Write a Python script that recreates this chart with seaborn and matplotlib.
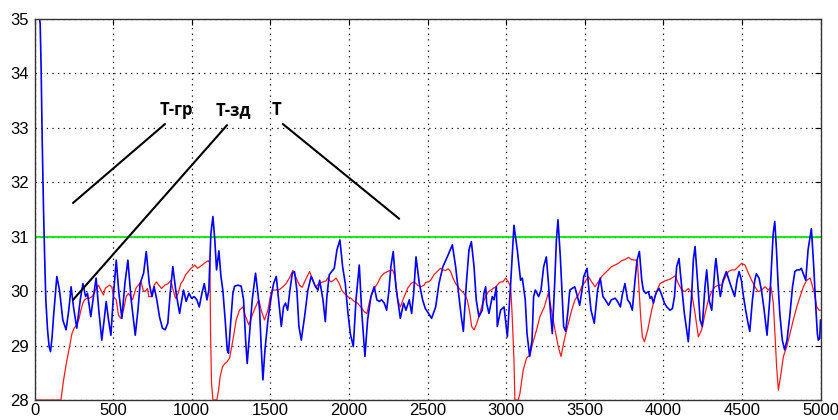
import matplotlib
matplotlib.use("Agg")
import matplotlib.pyplot as plt
import seaborn as sns
import pandas as pd

# ---- data ----
t_x = [0, 32, 36, 42, 49, 57, 64, 72, 83, 93, 102, 112, 121, 142, 159, 180, 201, 218, 233, 248, 269, 291, 308, 325, 337, 358,
       375, 392, 409, 428, 443, 456, 471, 486, 503, 520, 537, 556, 575, 594, 615, 641, 658, 672, 694, 711, 730, 747, 761,
       778, 795, 814, 831, 848, 863, 880, 901, 923, 937, 948, 965, 982, 999, 1016, 1033, 1048, 1065, 1080, 1097, 1109,
       1122, 1135, 1147, 1158, 1173, 1186, 1198, 1213, 1226, 1234, 1249, 1262, 1273, 1294, 1315, 1330, 1343, 1353, 1368,
       1385, 1406, 1421, 1432, 1442, 1453, 1466, 1485, 1506, 1521, 1538, 1553, 1570, 1584, 1597, 1610, 1625, 1640, 1654,
       1669, 1682, 1697, 1718, 1739, 1760, 1775, 1788, 1803, 1814, 1835, 1850, 1860, 1875, 1890, 1907, 1924, 1943, 1960,
       1977, 1992, 2009, 2028, 2045, 2066, 2081, 2102, 2119, 2140, 2161, 2178, 2193, 2208, 2225, 2240, 2255, 2267, 2282,
       2299, 2327, 2348, 2363, 2384, 2399, 2412, 2427, 2448, 2469, 2486, 2507, 2526, 2552, 2573, 2598, 2626, 2658, 2679,
       2700, 2715, 2728, 2747, 2764, 2779, 2796, 2810, 2827, 2848, 2859, 2870, 2876, 2891, 2912, 2923, 2938, 2944, 2965,
       2987, 3008, 3029, 3050, 3071, 3092, 3103, 3122, 3133, 3150, 3165, 3175, 3186, 3207, 3222, 3239, 3256, 3271, 3281,
       3294, 3309, 3320, 3330, 3345, 3356, 3366, 3379, 3394, 3405, 3420, 3437, 3451, 3468, 3483, 3494, 3515, 3525, 3540,
       3561, 3582, 3599, 3616, 3631, 3652, 3669, 3694, 3709, 3727, 3739, 3756, 3773, 3788, 3803, 3820, 3833, 3848, 3863,
       3873, 3888, 3905, 3916, 3926, 3937, 3947, 3958, 3973, 3990, 4007, 4022, 4043, 4058, 4071, 4085, 4100, 4117, 4134,
       4159, 4181, 4191, 4202, 4219, 4234, 4248, 4265, 4276, 4291, 4308, 4329, 4335, 4354, 4363, 4380, 4401, 4418, 4439,
       4454, 4469, 4482, 4497, 4507, 4524, 4539, 4550, 4567, 4582, 4592, 4609, 4624, 4639, 4660, 4677, 4688, 4699, 4709,
       4720, 4730, 4741, 4757, 4772, 4787, 4804, 4822, 4837, 4851, 4868, 4878, 4893, 4906, 4921, 4942, 4957, 4970, 4980,
       4986, 4995, 5000]
t_vals = [35.0, 35.0, 34.92, 34.12, 32.78, 31.55, 30.69, 29.84, 29.29, 28.98, 28.89, 29.16, 29.53, 30.27, 30.02, 29.47,
          29.29, 29.65, 30.08, 29.71, 29.32, 29.84, 30.14, 29.90, 29.96, 29.53, 29.90, 30.24, 29.65, 29.10, 29.47, 29.81,
          29.47, 29.19, 29.96, 30.57, 29.96, 29.50, 30.14, 30.57, 29.84, 29.19, 29.65, 30.14, 30.33, 30.73, 30.14, 29.90,
          30.08, 29.84, 29.53, 29.32, 29.29, 29.41, 29.96, 30.45, 29.96, 29.59, 29.84, 30.02, 29.81, 29.96, 29.87, 29.90,
          29.84, 29.71, 29.96, 30.14, 29.84, 30.02, 31.06, 31.37, 30.94, 30.39, 30.74, 30.27, 30.02, 29.47, 28.92, 28.86,
          29.47, 29.96, 30.09, 30.11, 30.09, 29.84, 29.10, 28.67, 29.22, 29.84, 30.33, 29.96, 29.65, 28.98, 28.37, 28.92,
          29.47, 29.90, 30.14, 30.27, 29.84, 29.35, 29.71, 29.78, 29.65, 30.02, 30.33, 30.36, 30.02, 29.35, 29.10, 29.53,
          30.02, 30.27, 30.17, 30.08, 30.02, 30.20, 29.84, 29.44, 29.90, 30.30, 30.36, 30.42, 30.76, 30.94, 30.45, 30.14,
          29.65, 29.22, 28.98, 29.84, 30.48, 29.65, 28.80, 29.47, 29.90, 30.08, 29.84, 29.81, 29.84, 29.78, 29.65, 30.02,
          30.45, 30.73, 30.08, 29.50, 29.78, 29.65, 29.84, 29.59, 29.96, 30.63, 30.14, 29.84, 29.68, 29.59, 29.50, 29.71,
          30.14, 30.45, 30.63, 30.85, 30.45, 29.90, 29.53, 29.26, 30.14, 30.76, 30.91, 30.45, 29.84, 29.53, 29.65, 29.96,
          30.08, 29.78, 29.59, 29.90, 29.84, 30.08, 29.35, 29.65, 29.71, 29.16, 30.14, 31.21, 30.76, 30.20, 30.24, 29.84,
          29.22, 28.80, 29.10, 29.90, 30.02, 29.90, 30.02, 30.45, 30.63, 30.08, 29.65, 29.22, 30.14, 30.94, 31.31, 30.63,
          29.96, 29.35, 29.26, 29.65, 30.02, 30.05, 30.08, 29.93, 29.74, 30.02, 30.27, 30.42, 30.08, 29.65, 29.41, 30.02,
          30.24, 29.90, 29.84, 29.74, 29.84, 29.87, 29.81, 29.71, 29.93, 30.14, 29.84, 29.78, 29.65, 30.20, 30.57, 30.73,
          30.20, 30.02, 29.96, 29.99, 29.87, 29.90, 29.78, 29.90, 29.99, 30.05, 29.93, 29.78, 29.71, 29.65, 29.68, 29.90,
          30.45, 30.60, 30.08, 29.59, 29.07, 29.96, 30.57, 30.82, 30.14, 29.47, 29.35, 30.08, 30.39, 29.84, 29.65, 30.45,
          30.60, 30.08, 29.90, 30.20, 30.36, 30.20, 30.02, 29.90, 30.20, 30.36, 30.20, 29.96, 29.65, 29.41, 29.26, 29.84,
          30.20, 30.32, 30.24, 30.02, 29.71, 29.19, 29.84, 30.45, 31.06, 31.28, 30.76, 30.14, 29.59, 29.10, 28.92, 29.10,
          29.53, 30.08, 30.36, 30.39, 30.39, 30.42, 30.30, 30.20, 30.76, 31.15, 30.45, 29.71, 29.22, 29.10, 29.13, 29.47]

tzd_x = [0, 0, 168, 185, 206, 223, 238, 252, 269, 284, 295, 308, 318, 333, 350, 365, 380, 392, 407, 422, 439, 450, 464,
         477, 492, 503, 520, 534, 549, 566, 583, 598, 623, 645, 660, 678, 691, 702, 719, 727, 744, 761, 776, 791, 808,
         829, 851, 867, 882, 897, 914, 931, 946, 961, 978, 995, 1010, 1020, 1037, 1052, 1067, 1084, 1105, 1116, 1120,
         1126, 1135, 1160, 1171, 1181, 1196, 1211, 1224, 1241, 1262, 1283, 1304, 1326, 1343, 1364, 1385, 1406, 1427,
         1442, 1463, 1485, 1500, 1512, 1534, 1559, 1580, 1601, 1623, 1644, 1665, 1686, 1703, 1729, 1750, 1771, 1788,
         1809, 1835, 1856, 1864, 1886, 1903, 1918, 1939, 1954, 1971, 1992, 2013, 2034, 2055, 2076, 2098, 2115, 2129,
         2151, 2166, 2182, 2204, 2225, 2246, 2278, 2289, 2299, 2310, 2327, 2352, 2373, 2395, 2416, 2437, 2458, 2479,
         2488, 2505, 2520, 2541, 2562, 2583, 2598, 2615, 2632, 2647, 2662, 2679, 2696, 2711, 2732, 2753, 2768, 2781,
         2796, 2810, 2827, 2848, 2870, 2887, 2904, 2918, 2935, 2952, 2965, 2980, 2997, 3014, 3029, 3039, 3050, 3056,
         3077, 3088, 3109, 3130, 3152, 3169, 3194, 3215, 3243, 3268, 3285, 3311, 3332, 3349, 3370, 3396, 3417, 3438,
         3460, 3481, 3502, 3523, 3544, 3566, 3587, 3608, 3629, 3650, 3671, 3693, 3714, 3735, 3756, 3778, 3799, 3820,
         3835, 3845, 3856, 3867, 3880, 3901, 3926, 3952, 3979, 4011, 4043, 4075, 4096, 4117, 4138, 4160, 4181, 4202,
         4223, 4244, 4266, 4287, 4308, 4329, 4350, 4371, 4392, 4414, 4435, 4456, 4477, 4498, 4520, 4541, 4562, 4583,
         4604, 4626, 4647, 4668, 4685, 4700, 4711, 4721, 4732, 4749, 4764, 4785, 4806, 4827, 4849, 4870, 4891, 4912,
         4934, 4944, 4961, 4976, 4991, 5000]
tzd_vals = [30.69, 28.0, 28.0, 28.37, 28.73, 28.98, 29.22, 29.32, 29.38, 29.50, 29.65, 29.78, 29.84, 29.87, 29.87, 29.90,
            29.96, 30.05, 30.11, 30.02, 29.93, 30.05, 30.08, 30.11, 30.08, 29.90, 29.84, 29.56, 29.50, 29.65, 29.90, 29.96,
            29.84, 30.05, 30.11, 30.17, 30.02, 29.99, 30.05, 29.90, 29.90, 30.11, 30.17, 30.11, 30.05, 30.11, 30.14, 30.20,
            30.02, 29.87, 29.96, 30.14, 30.20, 30.30, 30.36, 30.42, 30.45, 30.48, 30.42, 30.45, 30.48, 30.52, 30.56, 30.51,
            29.22, 28.31, 28.0, 28.0, 28.18, 28.43, 28.61, 28.67, 28.70, 28.77, 29.10, 29.47, 29.65, 29.71, 29.53, 29.38,
            29.56, 29.71, 29.84, 29.65, 29.47, 29.65, 29.90, 30.02, 30.02, 30.03, 30.08, 30.14, 30.25, 30.38, 30.24, 30.11,
            30.07, 30.24, 30.36, 30.20, 30.07, 30.14, 30.17, 30.19, 30.24, 30.17, 30.20, 30.24, 30.14, 30.02, 29.96, 29.90,
            29.87, 29.81, 29.78, 29.71, 29.62, 29.59, 29.78, 29.99, 30.07, 30.14, 30.27, 30.33, 30.36, 30.39, 30.30, 30.14,
            29.84, 29.71, 29.90, 30.05, 30.14, 30.17, 30.11, 30.08, 30.11, 30.16, 30.17, 30.20, 30.30, 30.36, 30.42, 30.39,
            30.38, 30.41, 30.36, 30.24, 30.14, 30.07, 30.02, 29.96, 29.84, 29.62, 29.35, 29.29, 29.38, 29.53, 29.75, 29.90,
            29.99, 30.02, 30.05, 30.08, 30.14, 30.17, 30.17, 30.24, 30.17, 30.08, 29.53, 28.73, 28.0, 28.0, 28.12, 28.55,
            28.77, 28.83, 29.04, 29.29, 29.53, 29.71, 29.96, 29.71, 29.29, 28.98, 28.80, 29.10, 29.41, 29.65, 29.84, 29.93,
            30.08, 30.17, 30.27, 30.17, 30.08, 30.17, 30.27, 30.33, 30.39, 30.45, 30.48, 30.51, 30.56, 30.58, 30.62, 30.58,
            30.57, 30.57, 30.08, 29.53, 29.16, 29.07, 29.29, 29.65, 29.96, 30.14, 30.19, 30.22, 30.28, 30.14, 30.02, 29.99,
            30.05, 29.96, 29.59, 29.16, 29.29, 29.59, 29.84, 29.99, 30.08, 30.11, 30.11, 30.24, 30.36, 30.39, 30.39, 30.45,
            30.51, 30.48, 30.33, 30.20, 30.08, 29.99, 30.02, 30.08, 30.02, 30.08, 29.78, 29.16, 28.61, 28.18, 28.49, 28.80,
            28.98, 29.22, 29.47, 29.71, 29.90, 30.08, 30.20, 30.24, 30.14, 29.96, 29.71, 29.65, 29.65]

tgr_x = [0, 5000]
tgr_vals = [31.0, 31.0]

labels = ["Т-гр", "Т-зд", "Т"]
label_x = [901, 1266, 1538]
label_y = [33.33, 33.33, 33.33]
pointer_start = [(830, 33.07), (1225, 33.05), (1580, 33.07)]
pointer_end = [(245, 31.62), (245, 29.84), (2320, 31.33)]

x_ticks = list(range(0, 5001, 500))
y_ticks = list(range(28, 36))

# ---- plotting ----
sns.set_style("white")
plt.rcParams['font.family'] = ['DejaVu Sans']

fig = plt.figure(figsize=(8.38, 4.20), dpi=100)
ax = fig.add_axes([34.5 / 838, 20 / 420, (820.5 - 34.5) / 838, (400 - 19) / 420])

df_t = pd.DataFrame({"x": t_x, "y": t_vals})
df_zd = pd.DataFrame({"x": tzd_x, "y": tzd_vals})
df_gr = pd.DataFrame({"x": tgr_x, "y": tgr_vals})

sns.lineplot(data=df_gr, x="x", y="y", ax=ax, color="#00ee00", lw=1.3, estimator=None, sort=False)
sns.lineplot(data=df_zd, x="x", y="y", ax=ax, color="#ff1a1a", lw=0.9, estimator=None, sort=False)
sns.lineplot(data=df_t, x="x", y="y", ax=ax, color="#0000ff", lw=1.2, estimator=None, sort=False)

for (x0, y0), (x1, y1) in zip(pointer_start, pointer_end):
    ax.annotate("", xy=(x1, y1), xytext=(x0, y0),
                arrowprops=dict(arrowstyle="-", color="black", lw=1.5, shrinkA=0, shrinkB=0))
for s, lx, ly in zip(labels, label_x, label_y):
    ax.text(lx, ly, s, ha="center", va="center", fontsize=12, fontweight="bold",
            family=["Open Sans", "DejaVu Sans"], color="black")

ax.set_xlim(0, 5000)
ax.set_ylim(28, 35)
ax.set_xticks(x_ticks)
ax.set_yticks(y_ticks)
ax.set_xlabel("")
ax.set_ylabel("")
tick_font = ["Liberation Sans Narrow", "Liberation Sans"]
for lab in ax.get_xticklabels() + ax.get_yticklabels():
    lab.set_family(tick_font)
    lab.set_fontsize(12)
ax.tick_params(direction="in", length=4, width=0.8, top=True, right=True, colors="black")
ax.tick_params(axis="x", pad=2)
ax.tick_params(axis="y", pad=4)
ax.grid(True, color="black", linestyle=(0, (1, 3.5)), lw=0.9)
for sp in ax.spines.values():
    sp.set_color("#333333")
    sp.set_linewidth(1.0)

fig.savefig("out.png", dpi=100)
